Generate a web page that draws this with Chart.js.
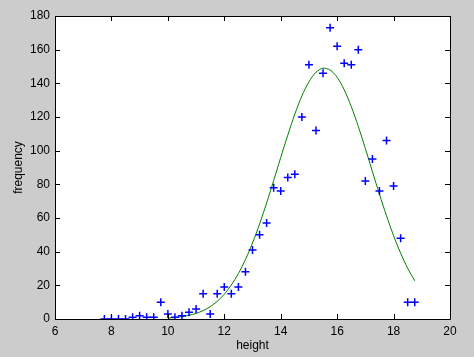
<!DOCTYPE html>
<html lang="en">
<head>
    <meta charset="UTF-8" />
    <title>frequency vs height</title>
    <script src="https://cdn.jsdelivr.net/npm/chart.js"></script>
    <style>
        html, body { margin: 0; padding: 0; background: #cccccc; }
        #wrap { width: 474px; height: 357px; }
    </style>
</head>
<body>
    <div id="wrap"><canvas id="fitChart" width="474" height="357"></canvas></div>

    <script>
        const heights = [7.75, 8, 8.25, 8.5, 8.75, 9, 9.25, 9.5, 9.75, 10, 10.25, 10.5, 10.75, 11,
            11.25, 11.5, 11.75, 12, 12.25, 12.5, 12.75, 13, 13.25, 13.5, 13.75, 14, 14.25, 14.5,
            14.75, 15, 15.25, 15.5, 15.75, 16, 16.25, 16.5, 16.75, 17, 17.25, 17.5, 17.75, 18,
            18.25, 18.5, 18.75];
        const counts = [0, 0, 0, 0, 1, 2, 1, 1, 10, 3, 1, 2, 4, 6,
            15, 3, 15, 19, 15, 19, 28, 41, 50, 57, 78, 76, 84, 86,
            120, 151, 112, 146, 173, 162, 152, 151, 160, 82, 95, 76, 106, 79,
            48, 10, 10];

        // fitted curve (green line)
        const fitX = [10, 10.25, 10.5, 10.75, 11, 11.25, 11.5, 11.75, 12, 12.25, 12.5, 12.75,
            13, 13.25, 13.5, 13.75, 14, 14.25, 14.5, 14.75, 15, 15.25, 15.5, 15.75, 16, 16.25,
            16.5, 16.75, 17, 17.25, 17.5, 17.75, 18, 18.25, 18.5, 18.75];
        const fitY = [0.5, 0.9, 1.4, 2.2, 3.3, 5, 7.3, 10.5, 14.7, 20.2, 27, 35.3,
            45.1, 56.4, 68.9, 82.2, 95.9, 109.2, 121.7, 132.5, 140.9, 146.6, 149, 147.9, 143.6, 136.2,
            126.2, 114.4, 101.3, 87.6, 74.1, 61.3, 49.5, 39.1, 30.1, 22.7];

        const xTicks = [6, 8, 10, 12, 14, 16, 18, 20];
        const yTicks = [0, 20, 40, 60, 80, 100, 120, 140, 160, 180];

        const font = { family: 'Liberation Sans, Arial, sans-serif', size: 12 };

        // white plot area, black frame, ticks pointing inwards on all four sides
        const framePlugin = {
            id: 'frame',
            beforeDraw(chart) {
                const { ctx, chartArea: a } = chart;
                ctx.save();
                ctx.fillStyle = '#ffffff';
                ctx.fillRect(a.left, a.top, a.right - a.left, a.bottom - a.top);
                ctx.restore();
            },
            afterDraw(chart) {
                const { ctx, chartArea: a, scales } = chart;
                const len = 5;
                ctx.save();
                ctx.strokeStyle = '#000000';
                ctx.lineWidth = 1;
                ctx.beginPath();
                ctx.rect(Math.round(a.left) + 0.5, Math.round(a.top) + 0.5,
                    Math.round(a.right - a.left), Math.round(a.bottom - a.top));
                scales.x.ticks.forEach(t => {
                    const px = Math.round(scales.x.getPixelForValue(t.value)) + 0.5;
                    ctx.moveTo(px, a.bottom); ctx.lineTo(px, a.bottom - len);
                    ctx.moveTo(px, a.top); ctx.lineTo(px, a.top + len);
                });
                scales.y.ticks.forEach(t => {
                    const py = Math.round(scales.y.getPixelForValue(t.value)) + 0.5;
                    ctx.moveTo(a.left, py); ctx.lineTo(a.left + len, py);
                    ctx.moveTo(a.right, py); ctx.lineTo(a.right - len, py);
                });
                ctx.stroke();
                ctx.restore();
            }
        };

        new Chart(document.getElementById('fitChart'), {
            type: 'scatter',
            data: {
                datasets: [{
                    label: 'data',
                    data: heights.map((h, i) => ({ x: h, y: counts[i] })),
                    pointStyle: 'cross',
                    pointRadius: 4,
                    borderColor: '#0000ff',
                    borderWidth: 1.5,
                    showLine: false
                }, {
                    label: 'fit',
                    data: fitX.map((h, i) => ({ x: h, y: fitY[i] })),
                    showLine: true,
                    borderColor: '#008000',
                    borderWidth: 1,
                    pointRadius: 0,
                    tension: 0.3
                }]
            },
            options: {
                responsive: false,
                animation: false,
                layout: { padding: { left: 0, right: 24, top: 16, bottom: 0 } },
                plugins: {
                    legend: { display: false },
                    tooltip: { enabled: false }
                },
                scales: {
                    x: {
                        type: 'linear',
                        min: 6, max: 20,
                        afterBuildTicks: s => { s.ticks = xTicks.map(v => ({ value: v })); },
                        afterFit: s => { s.height = 38; },
                        grid: { display: false, drawTicks: false },
                        border: { display: false },
                        ticks: { color: '#000', font: font, padding: 5, maxRotation: 0 },
                        title: { display: true, text: 'height', color: '#000', font: font, padding: { top: 0, bottom: 4 } }
                    },
                    y: {
                        type: 'linear',
                        min: 0, max: 180,
                        afterBuildTicks: s => { s.ticks = yTicks.map(v => ({ value: v })); },
                        afterFit: s => { s.width = 55; },
                        grid: { display: false, drawTicks: false },
                        border: { display: false },
                        ticks: { color: '#000', font: font, padding: 5 },
                        title: { display: true, text: 'frequency', color: '#000', font: font, padding: { top: 11, bottom: 0 } }
                    }
                }
            },
            plugins: [framePlugin]
        });
    </script>
</body>
</html>
